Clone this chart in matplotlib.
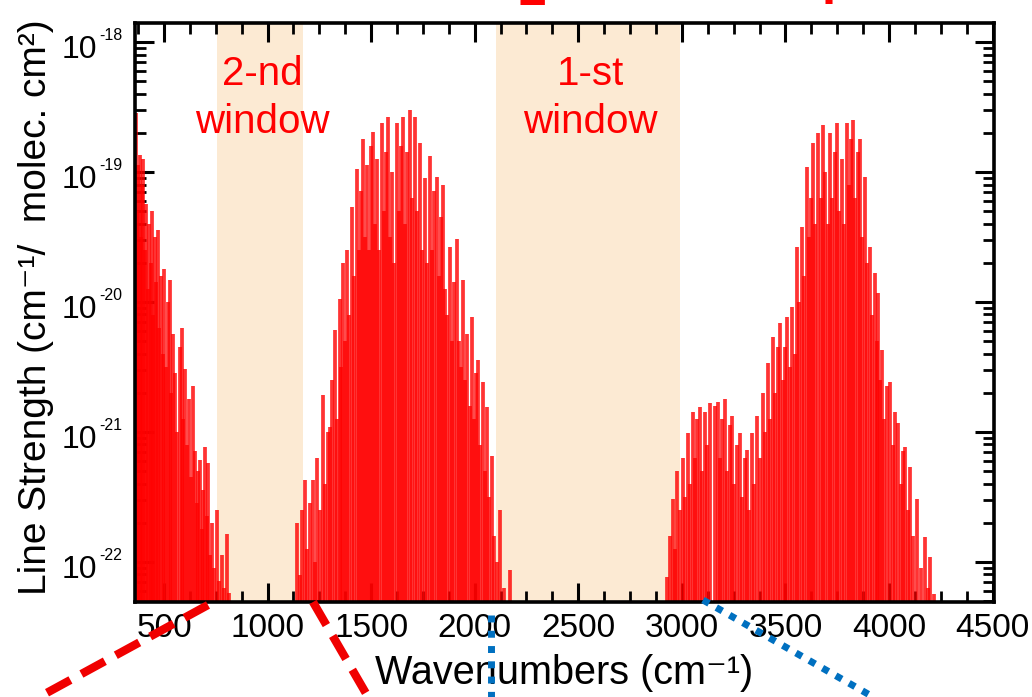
import numpy as np
import matplotlib
matplotlib.use("Agg")
import matplotlib.pyplot as plt
import matplotlib.transforms as mtransforms
from matplotlib.ticker import MultipleLocator, LogLocator, NullFormatter, FixedLocator
from matplotlib.lines import Line2D

plt.rcParams['font.family'] = ['Liberation Sans', 'DejaVu Sans']

# ---------------- data ----------------
# pure rotational band
rot_nu = [364, 370, 376, 382, 388, 394, 400, 407, 414, 421,
          428, 435, 442, 449, 456, 463, 470, 478, 486, 494,
          502, 510, 518, 527, 536, 545, 555, 565, 575, 585,
          593, 600, 610, 620, 630, 638, 648, 657, 665, 672,
          682, 690, 698, 706, 712, 722, 732, 742, 754, 765,
          778, 790, 802, 816]
rot_logS = [-18.55, -19.3, -18.95, -18.87, -19.5, -19.1, -18.9, -19.6, -19.25, -19.9,
            -19.4, -19.7, -19.3, -20.1, -19.5, -19.85, -19.45, -20.2, -19.8, -20.4,
            -19.75, -20.5, -20.0, -19.83, -20.7, -20.25, -20.55, -21.0, -20.35, -20.2,
            -20.9, -20.52, -21.1, -20.75, -21.35, -20.65, -21.15, -21.55, -21.3, -21.22,
            -21.75, -21.45, -21.12, -21.65, -21.24, -21.95, -21.7, -22.05, -21.6, -22.15,
            -21.95, -22.2, -21.79, -22.24]

# nu2 bending band
nu2_nu = [1144, 1156, 1168, 1180, 1192, 1204, 1217, 1228, 1240, 1252,
          1266, 1278, 1290, 1300, 1312, 1324, 1336, 1348, 1356, 1362,
          1372, 1382, 1394, 1406, 1418, 1430, 1440, 1450, 1459, 1468,
          1478, 1488, 1497, 1507, 1518, 1528, 1540, 1551, 1560, 1570,
          1580, 1590, 1600, 1612, 1623, 1633, 1643, 1652, 1662, 1674,
          1686, 1698, 1710, 1722, 1734, 1746, 1758, 1770, 1783, 1795,
          1805, 1816, 1826, 1836, 1845, 1856, 1868, 1879, 1890, 1902,
          1913, 1924, 1933, 1942, 1953, 1965, 1976, 1986, 1996, 2005,
          2015, 2027, 2039, 2049, 2059, 2070, 2083, 2095, 2108, 2121,
          2140, 2169]
nu2_logS = [-21.70, -22.1, -21.6, -21.37, -21.9, -21.55, -21.37, -22.0, -21.2, -21.6,
            -20.72, -21.4, -21.0, -20.96, -20.6, -20.22, -20.9, -19.98, -20.5, -19.70,
            -20.3, -19.6, -20.1, -19.27, -19.8, -18.98, -19.6, -19.15, -18.75, -19.5,
            -18.95, -19.6, -18.8, -18.69, -19.4, -18.9, -19.6, -18.62, -19.3, -18.85,
            -18.58, -19.5, -19.0, -19.7, -18.62, -19.3, -18.8, -18.58, -19.4, -18.85,
            -18.52, -19.2, -18.58, -19.3, -18.78, -19.6, -19.05, -19.7, -18.88, -19.6,
            -19.15, -19.04, -19.8, -19.35, -19.10, -19.9, -20.1, -19.58, -20.3, -19.85,
            -19.52, -20.3, -20.5, -19.83, -20.6, -20.25, -20.8, -20.12, -20.9, -20.55,
            -20.45, -21.1, -20.62, -21.3, -20.81, -21.5, -21.19, -21.8, -22.0, -21.60,
            -22.2, -22.06]

# 2nu2 overtone band
ov_nu = [2930, 2942, 2955, 2966, 2978, 2990, 3005, 3015, 3029, 3040,
         3053, 3063, 3075, 3087, 3098, 3110, 3122, 3135, 3160, 3174,
         3185, 3196, 3208, 3220, 3231, 3242, 3254, 3266, 3280, 3292,
         3304, 3314, 3326]
ov_logS = [-22.12, -21.8, -21.52, -21.9, -21.3, -21.6, -21.20, -21.5, -21.01, -21.4,
           -20.85, -21.2, -20.9, -20.81, -21.3, -20.85, -21.1, -20.78, -20.80, -20.77,
           -21.2, -20.9, -20.75, -21.3, -20.95, -20.88, -21.4, -21.1, -21.01, -21.5,
           -21.2, -21.14, -21.6]

# nu1 / nu3 stretching bands
str_nu = [3338, 3350, 3363, 3375, 3391, 3403, 3416, 3428, 3440, 3452,
          3463, 3474, 3486, 3497, 3508, 3520, 3532, 3544, 3556, 3568,
          3580, 3592, 3605, 3615, 3625, 3634, 3645, 3658, 3670, 3682,
          3693, 3704, 3716, 3727, 3738, 3749, 3760, 3772, 3785, 3797,
          3808, 3818, 3826, 3838, 3850, 3860, 3872, 3884, 3896, 3909,
          3920, 3933, 3941, 3947, 3956, 3966, 3978, 3990, 4005, 4018,
          4030, 4044, 4058, 4068, 4078, 4090, 4102, 4118, 4136, 4155,
          4174, 4190, 4198, 4215]
str_logS = [-21.01, -21.4, -20.88, -21.2, -20.70, -21.0, -20.47, -20.9, -20.27, -20.7,
            -20.35, -20.16, -20.6, -20.35, -20.12, -20.5, -20.04, -20.4, -19.58, -20.0,
            -19.42, -19.8, -18.96, -19.5, -19.2, -18.78, -19.4, -18.70, -19.2, -18.64,
            -19.0, -19.4, -18.70, -19.2, -18.85, -18.62, -19.3, -18.9, -19.4, -18.62,
            -19.1, -18.75, -18.60, -19.2, -18.85, -18.75, -19.5, -19.04, -19.7, -19.58,
            -20.1, -19.78, -20.3, -19.93, -20.6, -20.37, -20.9, -20.65, -20.62, -21.1,
            -20.85, -20.93, -21.4, -21.15, -21.12, -21.6, -21.27, -21.8, -21.52, -22.05,
            -21.81, -22.2, -21.96, -22.25]

window_names = ['2-nd', '1-st']
window_start = [755, 2105]
window_end = [1172, 2992]

x_major = [500, 1000, 1500, 2000, 2500, 3000, 3500, 4000, 4500]
y_major = [1e-22, 1e-21, 1e-20, 1e-19, 1e-18]
x_range = [360, 4507]
y_range = [4.9e-23, 1.4e-18]

# ---------------- figure ----------------
W, H = 1032, 697
fig = plt.figure(figsize=(W / 100, H / 100), dpi=100)
ax = fig.add_axes([135 / W, 1 - 602 / H, (994 - 135) / W, (602 - 23) / H])

beige = '#FCEAD3'
for s, e in zip(window_start, window_end):
    ax.axvspan(s, e, color=beige, zorder=0, lw=0)

for nu, lg in [(rot_nu, rot_logS), (nu2_nu, nu2_logS), (ov_nu, ov_logS), (str_nu, str_logS)]:
    S = 10.0 ** np.asarray(lg)
    ax.vlines(nu, 1e-24, S, colors='#FF0000', alpha=0.8, lw=2.7, zorder=2)

ax.set_yscale('log')
ax.set_xlim(*x_range)
ax.set_ylim(*y_range)

ax.set_xticks(x_major)
ax.xaxis.set_minor_locator(MultipleLocator(125))
ax.yaxis.set_major_locator(FixedLocator(y_major))
ax.yaxis.set_minor_locator(LogLocator(base=10, subs=np.arange(2, 10), numticks=50))
ax.yaxis.set_minor_formatter(NullFormatter())
ax.yaxis.set_major_formatter(NullFormatter())

ax.tick_params(which='both', direction='in', top=True, right=True, colors='black')
ax.tick_params(which='major', length=14, width=2.2)
ax.tick_params(which='minor', length=8, width=2.0)
ax.tick_params(axis='x', which='major', labelsize=24, pad=8)
for sp in ax.spines.values():
    sp.set_linewidth(2.6)
    sp.set_zorder(5)

# y tick labels: "10" with a small raised exponent
ytr = mtransforms.blended_transform_factory(ax.transAxes, ax.transData)
for v in y_major:
    e = int(round(np.log10(v)))
    t_base = mtransforms.offset_copy(ytr, fig=fig, x=-38 * 0.72, y=-16 * 0.72, units='points')
    ax.text(0, v, '10', transform=t_base, ha='right', va='baseline', fontsize=23)
    t_exp = mtransforms.offset_copy(ytr, fig=fig, x=-36 * 0.72, y=2 * 0.72, units='points')
    ax.text(0, v, str(e), transform=t_exp, ha='left', va='baseline', fontsize=11.5)

ax.set_xlabel('Wavenumbers (cm\u207b\u00b9)', fontsize=28.5, labelpad=7)
fig.text(36 / W, 1 - 307 / H, 'Line Strength (cm\u207b\u00b9/  molec. cm\u00b2)',
         rotation=90, ha='center', va='center', fontsize=28)

trans = mtransforms.blended_transform_factory(ax.transData, ax.transAxes)
for name, s, e in zip(window_names, window_start, window_end):
    xc = (s + e) / 2
    ax.text(xc + 10, 0.893, name, transform=trans, ha='center', va='baseline',
            color='#FF0000', fontsize=29, zorder=6)
    ax.text(xc + 10, 0.810, 'window', transform=trans, ha='center', va='baseline',
            color='#FF0000', fontsize=29, zorder=6)

# cut-off red title characters at the very top
fig.text(532 / W, 1 - 5 / H, '2', ha='center', va='baseline', color='#FF0000',
         fontsize=36, fontweight='bold', family='Roboto')
fig.text(827 / W, 1 - 4 / H, '1', ha='center', va='baseline', color='#FF0000',
         fontsize=36, fontweight='bold', family='Roboto')

# zoom connector lines below the axes (figure pixel coordinates)
def fig_line(p0, p1, **kw):
    xs = [p0[0] / W, p1[0] / W]
    ys = [1 - p0[1] / H, 1 - p1[1] / H]
    ln = Line2D(xs, ys, transform=fig.transFigure, zorder=20, **kw)
    fig.add_artist(ln)

red_kw = dict(color='#F00000', lw=6, linestyle=(0, (3.2, 1.5)), dash_capstyle='butt')
blue_kw = dict(color='#0070C0', lw=5, linestyle=(0, (1.0, 1.2)), dash_capstyle='butt')
fig_line((208, 605), (30, 702), **red_kw)
fig_line((313, 602), (371, 702), **red_kw)
fig_line((491, 615), (491, 702), **blue_kw)
fig_line((703, 600), (882, 702), **blue_kw)

fig.savefig('out.png', dpi=100)
